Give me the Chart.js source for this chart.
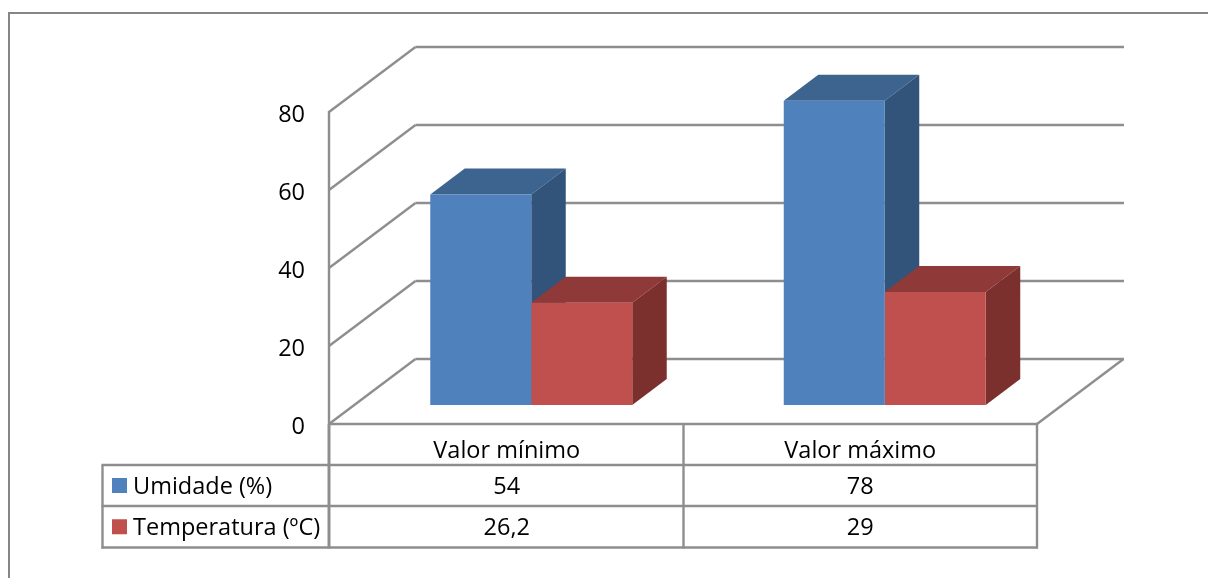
<!DOCTYPE html>
<html>
<head>
<meta charset="utf-8">
<title>Umidade e temperatura</title>
<script src="https://cdn.jsdelivr.net/npm/chart.js@4/dist/chart.umd.min.js"></script>
<style>
  html, body { margin: 0; padding: 0; background: #fff; }
  canvas { display: block; }
</style>
</head>
<body>
<canvas id="myChart" width="1208" height="578"></canvas>
<script>
let categories = ["Valor mínimo", "Valor máximo"];
let umidade = [54, 78];
let temperatura = [26.2, 29];
let seriesNames = ["Umidade (%)", "Temperatura (ºC)"];
let yTicks = [0, 20, 40, 60, 80];

const FONT = "'Open Sans'";
const FONT_SIZE = 23.5;
const LINE = "#8e8e8e";
const LINE_WIDTH = 2.4;
const TEXT_SHIFT = 3;

// colours per series: front, top, side
const shades = [
  { front: "#4f81bd", top: "#3d638f", side: "#32537a" },
  { front: "#c0504d", top: "#8f3938", side: "#7b302e" }
];

// how far the floor goes back, and where a bar sits on it
const wall = { dx: 85.5, dy: -65 };
const barOffset = { dx: 24.5, dy: -19 };
const barDepth = { dx: 34.5, dy: -26 };

function line(ctx, x1, y1, x2, y2) {
  ctx.beginPath();
  ctx.moveTo(x1, y1);
  ctx.lineTo(x2, y2);
  ctx.stroke();
}

function face(ctx, color, pts) {
  ctx.fillStyle = color;
  ctx.beginPath();
  pts.forEach(function (p, i) {
    if (i == 0) ctx.moveTo(p[0], p[1]);
    else ctx.lineTo(p[0], p[1]);
  });
  ctx.closePath();
  ctx.fill();
}

function formatValue(v) {
  return String(v).replace(".", ",");
}

// outer frame, only top and left are visible
function drawFrame(chart) {
  let ctx = chart.ctx;
  ctx.save();
  ctx.strokeStyle = "#868686";
  ctx.lineWidth = 2;
  line(ctx, 1208, 13, 9, 13);
  line(ctx, 9, 12, 9, 578);
  ctx.restore();
}

// side wall, back wall and floor
function drawWalls(chart) {
  let ctx = chart.ctx;
  let xs = chart.scales.x;
  let ys = chart.scales.y;
  ctx.save();
  ctx.strokeStyle = LINE;
  ctx.lineWidth = LINE_WIDTH;
  yTicks.forEach(function (t) {
    let y = ys.getPixelForValue(t);
    line(ctx, xs.left - 1, y, xs.left + wall.dx, y + wall.dy);
    line(ctx, xs.left + wall.dx, y + wall.dy, xs.right + wall.dx + 1.5, y + wall.dy);
  });
  line(ctx, xs.right, ys.bottom, xs.right + wall.dx + 1, ys.bottom + wall.dy);
  line(ctx, xs.left - 1, ys.top - 1, xs.left - 1, ys.bottom);
  ctx.restore();
}

// top and side faces of the bars, the fronts come from Chart.js
function drawBarFaces(chart) {
  let ctx = chart.ctx;
  categories.forEach(function (c, i) {
    chart.data.datasets.forEach(function (ds, d) {
      let bar = chart.getDatasetMeta(d).data[i];
      let half = bar.width / 2;
      let l = bar.x - half + barOffset.dx;
      let r = bar.x + half + barOffset.dx;
      let t = bar.y + barOffset.dy;
      let b = bar.base + barOffset.dy;
      let bx = barDepth.dx;
      let by = barDepth.dy;
      face(ctx, shades[d].top, [[l, t], [r, t], [r + bx, t + by], [l + bx, t + by]]);
      face(ctx, shades[d].side, [[r, t], [r + bx, t + by], [r + bx, b + by], [r, b]]);
    });
  });
}

// data table under the plot, legend keys in its first column
function drawTable(chart) {
  let ctx = chart.ctx;
  let xs = chart.scales.x;
  let ys = chart.scales.y;
  let top = ys.bottom;
  let rows = [465, 506, 547.5];
  let left = 102.5;
  let colLine = xs.left - 1;
  let values = [umidade, temperatura];

  ctx.save();
  ctx.strokeStyle = LINE;
  ctx.lineWidth = LINE_WIDTH;
  line(ctx, xs.left, top, xs.right, top);
  line(ctx, left, rows[0], left, rows[2] + 1);
  line(ctx, xs.right, top, xs.right, rows[2] + 1);
  let mid = (xs.getPixelForTick(0) + xs.getPixelForTick(1)) / 2;
  line(ctx, mid, top, mid, rows[2] + 1);
  rows.forEach(function (y) {
    line(ctx, left - 1, y, xs.right + 1, y);
  });
  // the first column's right edge is the heaviest line in the table
  ctx.lineWidth = 3;
  line(ctx, colLine, top, colLine, rows[2] + 1);

  ctx.font = FONT_SIZE + "px " + FONT;
  ctx.textBaseline = "middle";
  ctx.fillStyle = "#000";
  seriesNames.forEach(function (name, i) {
    let cy = (rows[i] + rows[i + 1]) / 2;
    ctx.fillStyle = shades[i].front;
    ctx.fillRect(112, cy - 7.5, 15, 15);
    ctx.fillStyle = "#000";
    ctx.textAlign = "left";
    ctx.fillText(name, 133, cy + TEXT_SHIFT - 1);
    ctx.textAlign = "center";
    categories.forEach(function (c, j) {
      ctx.fillText(formatValue(values[i][j]), xs.getPixelForTick(j), cy + TEXT_SHIFT - 1);
    });
  });
  ctx.restore();
}

const box3d = {
  id: "box3d",
  afterLayout(chart) {
    // Open Sans centres high on its middle baseline, push the value labels down to the tick
    let ys = chart.scales.y;
    let drawLabels = ys.drawLabels;
    ys.drawLabels = function (area) {
      chart.ctx.save();
      chart.ctx.translate(0, TEXT_SHIFT);
      drawLabels.call(ys, area);
      chart.ctx.restore();
    };
  },
  beforeDatasetsDraw(chart) {
    drawFrame(chart);
    drawWalls(chart);
    drawTable(chart);
    drawBarFaces(chart);
    // the fronts stand a little back from the front edge of the floor
    chart.ctx.save();
    chart.ctx.translate(barOffset.dx, barOffset.dy);
  },
  afterDatasetsDraw(chart) {
    chart.ctx.restore();
  }
};

new Chart("myChart", {
  type: "bar",
  data: {
    labels: categories,
    datasets: [
      { label: seriesNames[0], data: umidade, backgroundColor: shades[0].front },
      { label: seriesNames[1], data: temperatura, backgroundColor: shades[1].front }
    ]
  },
  plugins: [box3d],
  options: {
    responsive: false,
    animation: false,
    layout: { padding: { left: 270, right: 171, top: 112, bottom: 94 } },
    datasets: { bar: { categoryPercentage: 0.5714, barPercentage: 1, clip: false } },
    plugins: { legend: { display: false }, tooltip: { enabled: false } },
    scales: {
      x: {
        grid: { display: false },
        border: { display: false },
        afterFit(scale) { scale.height = 60; },
        ticks: {
          padding: 5,
          color: "#000",
          maxRotation: 0,
          font: { family: FONT, size: FONT_SIZE }
        }
      },
      y: {
        min: 0,
        max: 80,
        grid: { display: false },
        border: { display: false },
        afterFit(scale) { scale.width = 60; },
        ticks: {
          stepSize: 20,
          padding: 17,
          color: "#000",
          font: { family: FONT, size: FONT_SIZE }
        }
      }
    }
  }
});
</script>
</body>
</html>
